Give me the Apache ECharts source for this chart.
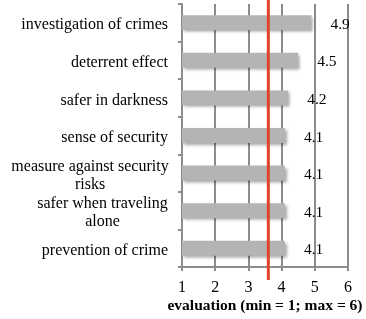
<!DOCTYPE html>
<html>
<head>
<meta charset="utf-8">
<script src="https://cdn.jsdelivr.net/npm/echarts@6/dist/echarts.min.js"></script>
<style>
  html,body{margin:0;padding:0;background:#fff;}
  #chart{width:366px;height:319px;}
</style>
</head>
<body>
<div id="chart"></div>
<script>
  // categories top to bottom
  const categories = [
    'investigation of crimes',
    'deterrent effect',
    'safer in darkness',
    'sense of security',
    'measure against security\nrisks',
    'safer when traveling\nalone',
    'prevention of crime'
  ];
  const values = [4.9, 4.5, 4.2, 4.1, 4.1, 4.1, 4.1];
  const xTicks = [1, 2, 3, 4, 5, 6];
  const threshold = 3.6;

  const serif = '"Liberation Serif", "DejaVu Serif", serif';
  const gridBottom = 49;
  const chart = echarts.init(document.getElementById('chart'));

  const option = {
    animation: false,
    grid: { left: 182, right: 18, top: 4, bottom: gridBottom },
    xAxis: {
      type: 'value',
      min: xTicks[0],
      max: xTicks[xTicks.length - 1],
      interval: 1,
      name: 'evaluation (min = 1; max = 6)',
      nameLocation: 'middle',
      nameGap: 31,
      nameMoveOverlap: false,
      nameTextStyle: { fontFamily: serif, fontSize: 15.5, fontWeight: 'bold', color: '#000' },
      axisLine: { show: true, lineStyle: { color: '#8c8c8c', width: 2 } },
      axisTick: { show: true, length: 4, lineStyle: { color: '#8c8c8c', width: 2 } },
      axisLabel: { fontFamily: serif, fontSize: 16, color: '#000', margin: 13 },
      splitLine: { show: true, lineStyle: { color: '#8c8c8c', width: 2 } }
    },
    yAxis: {
      type: 'category',
      data: categories,
      inverse: true,
      axisLine: { show: true, lineStyle: { color: '#8c8c8c', width: 2 } },
      axisTick: { show: true, length: 4, lineStyle: { color: '#8c8c8c', width: 2 } },
      axisLabel: {
        fontFamily: serif, fontSize: 16, color: '#000', margin: 14, lineHeight: 18,
        padding: [5, 0, 0, 0],
        formatter: function (v) {
          if (v.indexOf('measure') === 0) return '{a|' + v + '}';
          if (v.indexOf('safer when') === 0) return '{b|' + v + '}';
          return v;
        },
        rich: {
          a: { fontFamily: serif, fontSize: 16, color: '#000', width: 156, align: 'center', lineHeight: 18 },
          b: { fontFamily: serif, fontSize: 16, color: '#000', width: 131, align: 'center', lineHeight: 18 }
        }
      }
    },
    series: [{
      type: 'bar',
      data: values,
      barWidth: 15,
      itemStyle: {
        color: '#b4b4b4',
        shadowColor: 'rgba(0,0,0,0.35)',
        shadowBlur: 3,
        shadowOffsetX: 2,
        shadowOffsetY: 2
      },
      label: {
        show: true,
        position: 'right',
        distance: 19,
        fontFamily: serif,
        fontSize: 15.5,
        color: '#000',
        offset: [0, 2]
      }
    }]
  };
  chart.setOption(option);

  // red reference line, placed through the x axis scale, overhanging the grid
  const px = chart.convertToPixel({ xAxisIndex: 0 }, threshold);
  const bottomY = chart.getHeight() - gridBottom;
  chart.setOption({
    graphic: [{
      type: 'line',
      shape: { x1: px, y1: 0, x2: px, y2: bottomY + 10 },
      style: { stroke: '#e2412b', lineWidth: 3 },
      z: 100
    }]
  });
</script>
</body>
</html>
